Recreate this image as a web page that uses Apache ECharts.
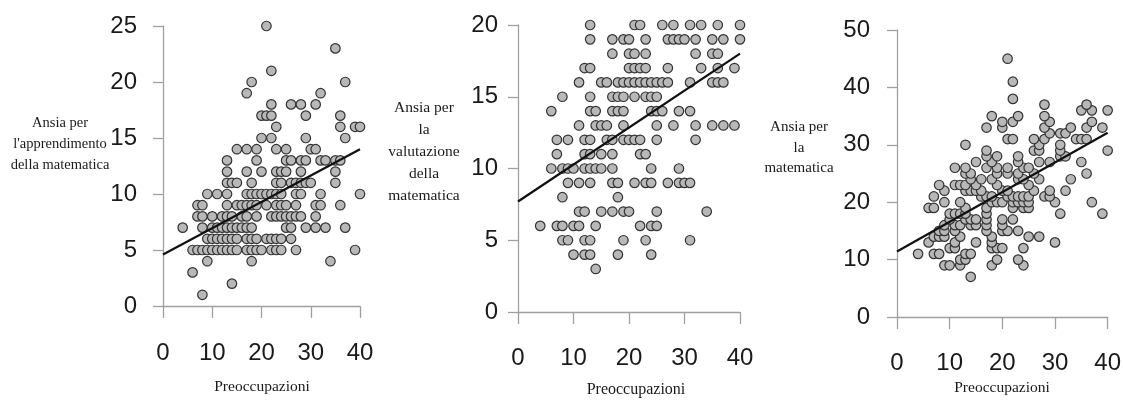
<!DOCTYPE html>
<html>
<head>
<meta charset="utf-8">
<script src="https://cdn.jsdelivr.net/npm/echarts@6/dist/echarts.min.js"></script>
<style>
html,body{margin:0;padding:0;background:#fff;}
#c{width:1124px;height:401px;}
</style>
</head>
<body>
<div id="c"></div>
<script>
// ---------- DATA ----------
const xTicks = [0, 10, 20, 30, 40];
const xLabel = "Preoccupazioni";
const yLabels = ["Ansia per\nl'apprendimento\ndella matematica", "Ansia per\nla\nvalutazione\ndella\nmatematica", "Ansia per\nla\nmatematica"];

// Panel 1: rows of x values for each y value
const p1Rows = {
  25: [21],
  23: [35],
  21: [22],
  20: [18, 37],
  19: [17, 32],
  18: [22, 26, 28, 31],
  17: [20, 21, 22, 29, 36],
  16: [23, 36, 39, 40],
  15: [20, 22, 29, 37],
  14: [15, 17, 19, 23, 25, 30, 31],
  13: [13, 19, 25, 26, 28, 29, 32, 33, 35, 36],
  12: [13, 17, 20, 23, 24, 25, 28, 35],
  11: [13, 14, 15, 18, 23, 24, 26, 27, 28, 29, 30, 35],
  10: [9, 11, 13, 17, 18, 19, 20, 21, 22, 23, 24, 27, 28, 32, 40],
  9: [7, 8, 13, 15, 16, 17, 18, 19, 21, 23, 24, 25, 27, 31, 32, 36],
  8: [7, 8, 10, 12, 13, 14, 16, 17, 19, 22, 23, 24, 25, 26, 27, 28, 31],
  7: [4, 8, 10, 11, 12, 13, 14, 15, 16, 17, 18, 25, 26, 29, 31, 33, 37],
  6: [9, 10, 11, 12, 13, 14, 15, 17, 18, 19, 21, 22, 23, 24, 26],
  5: [6, 7, 8, 9, 10, 11, 12, 13, 14, 15, 17, 18, 19, 20, 22, 23, 24, 27, 39],
  4: [9, 18, 34],
  3: [6],
  2: [14],
  1: [8]
};
const p2Rows = {
  20: [13, 21, 22, 26, 28, 31, 33, 36, 40],
  19: [13, 17, 19, 20, 23, 27, 28, 29, 30, 32, 35, 37, 40],
  18: [17, 20, 21, 23, 32, 35, 36],
  17: [12, 13, 20, 21, 22, 23, 27, 33, 36, 39],
  16: [11, 15, 16, 18, 19, 20, 21, 22, 23, 24, 25, 26, 27, 31, 35, 36, 37],
  15: [8, 13, 17, 18, 19, 21, 23, 24, 25],
  14: [6, 13, 14, 17, 18, 19, 24, 25, 26, 29, 31],
  13: [11, 14, 15, 16, 19, 25, 28, 32, 35, 37, 39],
  12: [7, 9, 12, 13, 16, 17, 19, 20, 21, 22, 25, 32],
  11: [7, 12, 13, 15, 17, 22, 23],
  10: [6, 8, 9, 10, 12, 13, 14, 15, 17, 24, 29],
  9: [9, 11, 13, 17, 18, 21, 23, 24, 27, 29, 30, 31],
  8: [8, 18],
  7: [11, 12, 15, 17, 19, 20, 25, 34],
  6: [4, 7, 8, 10, 11, 14, 22, 24, 25],
  5: [8, 9, 12, 13, 19, 23, 31],
  4: [10, 12, 13, 18, 24],
  3: [14]
};
const p3Rows = {
  45: [21],
  41: [22],
  38: [22],
  37: [28, 36],
  36: [35, 37, 40],
  35: [18, 23, 28],
  34: [20, 22, 29, 37],
  33: [17, 20, 28, 33, 36, 39],
  32: [29, 31, 32],
  31: [21, 22, 26, 28, 34, 35, 36],
  30: [13, 27, 31],
  29: [17, 26, 27, 31, 40],
  28: [17, 19, 23, 31, 32],
  27: [15, 18, 23, 27, 29, 35],
  26: [11, 13, 17, 19, 21, 24, 25],
  25: [13, 14, 19, 21, 23, 26, 36],
  24: [14, 16, 18, 23, 24, 27, 33],
  23: [8, 11, 12, 13, 15, 19, 25],
  22: [9, 13, 14, 15, 16, 20, 21, 26, 29, 32],
  21: [7, 16, 17, 18, 21, 22, 23, 24, 25, 28, 29],
  20: [9, 12, 18, 19, 20, 22, 23, 24, 25, 30, 37],
  19: [6, 7, 13, 17, 22, 24, 25],
  18: [10, 11, 12, 13, 17, 31, 39],
  17: [10, 13, 14, 15, 17, 20, 22],
  16: [9, 11, 12, 14, 15, 17, 20],
  15: [8, 9, 11, 17, 20, 21, 23],
  14: [7, 8, 9, 12, 18, 25, 27],
  13: [6, 11, 15, 18, 30],
  12: [10, 11, 18, 19, 20, 24],
  11: [4, 7, 8, 13, 14],
  10: [12, 13, 19, 23],
  9: [9, 10, 12, 18, 24],
  7: [14]
};
// Regression line end points (y at x = 0 and x = 40)
const reg1 = [4.6, 14.0];
const reg2 = [7.7, 18.0];
const reg3 = [11.4, 32.1];

// ---------- BUILD ----------
function toPoints(rows) {
  const pts = [];
  Object.keys(rows).forEach(k => rows[k].forEach(x => pts.push([x, Number(k)])));
  return pts;
}
const pts1 = toPoints(p1Rows), pts2 = toPoints(p2Rows), pts3 = toPoints(p3Rows);

const AX = '#a0a0a0';
const TXT = '#1a1a1a';
const NUMFONT = '"Liberation Sans Narrow", "Arial Narrow", "Liberation Sans", sans-serif';
const SERIF = '"Liberation Serif", "Times New Roman", serif';

function xAxisCfg(gi, offset, margin) {
  return {
    gridIndex: gi, type: 'value', min: 0, max: 40, interval: 10, offset: offset,
    axisLine: { show: true, lineStyle: { color: AX, width: 1.3 } },
    axisTick: { show: true, length: 12, lineStyle: { color: AX, width: 1.3 } },
    axisLabel: { margin: margin, fontSize: 24, color: TXT, fontFamily: NUMFONT },
    splitLine: { show: false }
  };
}
function yAxisCfg(gi, max, interval, offset, margin) {
  return {
    gridIndex: gi, type: 'value', min: 0, max: max, interval: interval, offset: offset,
    axisLine: { show: true, lineStyle: { color: AX, width: 1.3 } },
    axisTick: { show: true, length: 10, lineStyle: { color: AX, width: 1.3 } },
    axisLabel: { margin: margin, fontSize: 24, color: TXT, fontFamily: NUMFONT },
    splitLine: { show: false }
  };
}
function scatter(i, data) {
  return {
    type: 'scatter', xAxisIndex: i, yAxisIndex: i, data: data, symbolSize: 9.5,
    itemStyle: { color: '#b8b8b8', borderColor: '#333', borderWidth: 1.2, opacity: 1 },
    z: 2
  };
}
function regLine(i, r) {
  return {
    type: 'line', xAxisIndex: i, yAxisIndex: i, data: [[0, r[0]], [40, r[1]]],
    showSymbol: false, symbol: 'none', lineStyle: { color: '#111', width: 2.2 }, z: 5
  };
}
function txt(x, y, s, size, lh) {
  return {
    type: 'text', x: x, y: y,
    style: { text: s, font: size + 'px ' + SERIF, fill: TXT, textAlign: 'center', textVerticalAlign: 'middle', lineHeight: lh }
  };
}

const chart = echarts.init(document.getElementById('c'), null, { renderer: 'canvas' });
chart.setOption({
  animation: false,
  backgroundColor: '#fff',
  grid: [
    { left: 163, width: 197, top: 26, height: 280 },
    { left: 518, width: 222, top: 25, height: 287 },
    { left: 897, width: 214, top: 30, height: 287 }
  ],
  xAxis: [xAxisCfg(0, 14, 21), xAxisCfg(1, 16, 18), xAxisCfg(2, 15, 19)],
  yAxis: [yAxisCfg(0, 25, 5, 10, 16), yAxisCfg(1, 20, 5, 10, 10), yAxisCfg(2, 50, 10, 11, 16)],
  series: [scatter(0, pts1), scatter(1, pts2), scatter(2, pts3), regLine(0, reg1), regLine(1, reg2), regLine(2, reg3)],
  graphic: [
    txt(60, 144, yLabels[0], 14.5, 21),
    txt(424, 152, yLabels[1], 15.5, 22),
    txt(799, 148, yLabels[2], 15, 20.5),
    txt(262, 387, xLabel, 15.5, 18),
    txt(636, 390, xLabel, 16, 18),
    txt(1002, 388, xLabel, 15.5, 18)
  ]
});
</script>
</body>
</html>
